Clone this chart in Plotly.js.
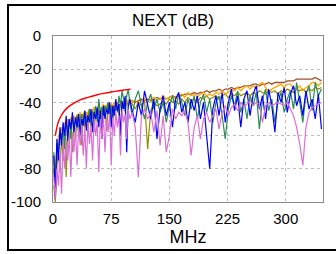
<!DOCTYPE html>
<html>
<head>
<meta charset="utf-8">
<script src="https://cdn.plot.ly/plotly-3.0.1.min.js"></script>
<style>
html,body{margin:0;padding:0;background:#fff;}
#wrap{position:relative;width:336px;height:254px;overflow:hidden;}
#chart{position:absolute;left:0;top:0;width:336px;height:254px;}
#frame{position:absolute;left:7px;top:4px;width:329px;height:247px;border:2px solid #000;border-right:none;box-sizing:border-box;pointer-events:none;}
</style>
</head>
<body>
<div id="wrap"><div id="chart"></div><div id="frame"></div></div>
<script>
const freq = [1,3,5,7,9,11,13,15,17,19,21,23,25,27,29,31,33,35,37,39,41,43,45,47,49,51,53,55,57,59,61,63,65,67,69,71,73,75,77,79,81,83,85,87,89,91,93,95,97,99,
102,106,110,114,118,122,126,130,134,138,142,146,150,154,158,162,166,170,174,178,182,186,190,194,198,202,206,210,214,218,222,226,230,234,238,242,246,250,254,258,262,266,270,274,278,282,286,290,294,298,302,306,310,314,318,322,326,330,334,338,342,346];

const blue = [-72,-98,-62,-75,-55,-66,-52,-60,-48,-63,-50,-56,-46,-58,-49,-55,-47,-60,-50,-54,-45,-57,-48,-52,-44,-58,-46,-50,-43,-55,-45,-62,-42,-50,-44,-47,-40,-55,-42,-48,-38,-45,-41,-60,-39,-44,-36,-70,-42,-38,
-45,-52,-40,-48,-33,-42,-50,-38,-62,-44,-36,-48,-40,-55,-38,-34,-46,-40,-52,-38,-45,-36,-50,-40,-60,-80,-44,-36,-48,-34,-52,-40,-32,-45,-36,-55,-38,-33,-48,-35,-30,-44,-36,-50,-32,-42,-58,-34,-40,-31,-46,-35,-30,-42,-36,-48,-33,-44,-38,-50,-35,-56];

const green = [-70,-85,-65,-70,-58,-62,-55,-68,-52,-57,-50,-62,-49,-55,-52,-48,-58,-50,-47,-54,-46,-52,-49,-44,-55,-45,-48,-42,-52,-38,-46,-43,-50,-42,-45,-40,-48,-42,-50,-44,-40,-46,-36,-42,-33,-38,-45,-36,-32,-40,
-48,-38,-33,-42,-50,-40,-35,-44,-38,-46,-40,-52,-42,-36,-44,-35,-40,-48,-38,-44,-36,-50,-40,-35,-46,-38,-52,-40,-36,-48,-62,-44,-36,-42,-33,-46,-38,-50,-36,-42,-34,-56,-38,-32,-45,-38,-52,-40,-34,-46,-38,-33,-44,-28,-40,-52,-35,-30,-45,-28,-36,-32];

const brown = [-80,-95,-70,-66,-62,-60,-57,-58,-55,-56,-54,-55,-52,-53,-52,-50,-51,-50,-49,-50,-48,-49,-47,-48,-47,-46,-47,-46,-45,-46,-45,-44,-45,-44,-43,-44,-43,-42,-43,-42,-42,-41,-42,-41,-40,-41,-40,-40,-39,-40,
-39,-40,-39,-38,-39,-38,-39,-38,-37,-38,-37,-38,-37,-36,-37,-36,-36,-35,-35,-35,-34,-35,-34,-34,-33,-34,-33,-33,-32,-33,-32,-32,-31,-32,-31,-31,-30,-30,-30,-29,-29,-30,-29,-29,-28,-29,-28,-28,-28,-28,-27,-27,-27,-26,-26,-26,-26,-26,-26,-25,-26,-27];

const orange = [-75,-90,-66,-60,-58,-55,-60,-52,-56,-50,-54,-49,-53,-48,-52,-47,-50,-46,-49,-47,-45,-48,-46,-44,-47,-45,-43,-46,-44,-42,-45,-43,-41,-44,-42,-40,-43,-41,-42,-40,-41,-42,-40,-39,-41,-40,-38,-40,-39,-38,
-40,-39,-41,-39,-38,-40,-38,-37,-39,-38,-36,-38,-37,-36,-38,-36,-35,-37,-34,-36,-35,-37,-35,-34,-36,-35,-36,-34,-35,-33,-35,-34,-32,-33,-31,-33,-31,-30,-32,-30,-32,-29,-28,-31,-34,-32,-31,-30,-29,-31,-29,-29,-31,-32,-30,-33,-31,-30,-28,-28,-30,-28];

const olive = [-90,-100,-78,-70,-82,-60,-75,-56,-85,-55,-65,-52,-70,-50,-62,-49,-58,-48,-66,-47,-55,-46,-60,-45,-52,-44,-58,-46,-50,-44,-55,-43,-48,-42,-57,-43,-46,-41,-52,-42,-45,-40,-48,-41,-44,-40,-46,-39,-42,-40,
-41,-44,-40,-42,-39,-68,-45,-40,-42,-41,-39,-41,-38,-40,-39,-41,-38,-40,-37,-39,-38,-40,-37,-38,-36,-38,-37,-36,-38,-36,-35,-37,-35,-36,-34,-36,-35,-34,-36,-34,-35,-33,-34,-35,-33,-34,-33,-35,-33,-34,-32,-33,-34,-32,-33,-32,-34,-32,-33,-31,-32,-31];

const violet = [-85,-98,-80,-90,-70,-95,-65,-80,-62,-75,-60,-85,-58,-70,-56,-78,-55,-66,-54,-72,-55,-80,-52,-65,-54,-75,-50,-60,-52,-82,-50,-62,-48,-70,-50,-58,-47,-78,-49,-60,-46,-55,-48,-72,-45,-52,-47,-62,-44,-50,
-46,-55,-85,-48,-44,-50,-46,-58,-45,-66,-48,-70,-60,-44,-50,-46,-48,-45,-52,-72,-55,-48,-62,-50,-46,-52,-48,-44,-56,-46,-42,-48,-43,-41,-45,-40,-43,-41,-39,-42,-40,-41,-52,-42,-40,-42,-41,-40,-41,-42,-40,-44,-48,-55,-65,-78,-55,-46,-43,-42,-41,-40];

const limitX = [3,5,7,10,14,19,25,35,45,55,65,75,85,100];
const limitY = [-60,-55,-51.5,-48.5,-45.5,-43,-41,-38.5,-37,-35.7,-34.6,-33.7,-33,-32];

const xTicks = [0,75,150,225,300];
const yTicks = [0,-20,-40,-60,-80,-100];

function tr(y, color, w) {
  return {x: freq, y: y, type: 'scatter', mode: 'lines', line: {color: color, width: w || 1.2}, hoverinfo: 'skip'};
}
const data = [
  tr(olive, '#8f8f00'),
  tr(brown, '#a0522d', 1.3),
  tr(orange, '#ffa500', 1.3),
  tr(green, '#2e8b57'),
  tr(blue, '#0000ff'),
  tr(violet, '#da70d6'),
  {x: limitX, y: limitY, type: 'scatter', mode: 'lines', line: {color: '#ff0000', width: 1.4, shape: 'spline'}, hoverinfo: 'skip'}
];

const layout = {
  width: 336, height: 254,
  margin: {l: 53, r: 13, t: 36, b: 52},
  paper_bgcolor: '#fff', plot_bgcolor: '#fff',
  showlegend: false,
  font: {family: 'Liberation Sans, Arial, sans-serif', color: '#000'},
  title: {text: 'NEXT (dB)', font: {size: 17, color: '#000'}, x: 0.515, xanchor: 'center', y: 0.92, yanchor: 'middle', xref: 'container', yref: 'container'},
  xaxis: {
    range: [0, 348], tickvals: xTicks, ticktext: xTicks.map(String),
    tickfont: {size: 15}, ticks: '', ticklabelstandoff: 3,
    showgrid: true, gridcolor: '#bdbdbd', griddash: 'dot', gridwidth: 1,
    zeroline: false, showline: true, linecolor: '#8a8a8a', linewidth: 1, mirror: true,
    title: {text: 'MHz', font: {size: 18}, standoff: 4}
  },
  yaxis: {
    range: [-100, 0], tickvals: yTicks, ticktext: yTicks.map(String),
    tickfont: {size: 15}, ticks: '', ticklabelstandoff: 8,
    showgrid: true, gridcolor: '#bdbdbd', griddash: 'dot', gridwidth: 1,
    zeroline: false, showline: true, linecolor: '#8a8a8a', linewidth: 1, mirror: true
  }
};
Plotly.newPlot('chart', data, layout, {staticPlot: true, displayModeBar: false});
</script>
</body>
</html>
